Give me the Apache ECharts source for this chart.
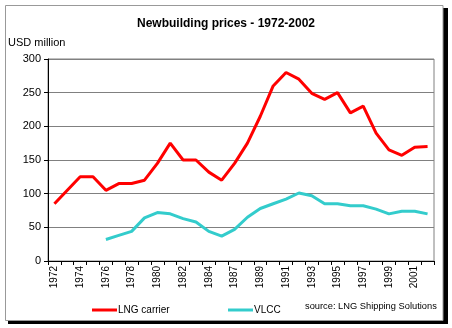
<!DOCTYPE html>
<html>
<head>
<meta charset="utf-8">
<script src="https://cdn.jsdelivr.net/npm/echarts@6/dist/echarts.min.js"></script>
<style>
html,body{margin:0;padding:0;background:#fff;}
#c{width:452px;height:328px;}
</style>
</head>
<body>
<div id="c"></div>
<script>
const years = ['1972','1973','1974','1975','1976','1977','1978','1979','1980','1981','1982','1983','1984','1985','1987','1988','1989','1990','1991','1992','1993','1994','1995','1996','1997','1998','1999','2000','2001','2002'];
const lngCarrier = [85,105,125,125,105,115,115,120,145,175,150,150,132,120,145,175,215,260,280,270,249,240,250,220,230,190,165,157,169,170];
const vlcc = [null,null,null,null,32,38,44,64,72,70,63,58,44,37,47,65,78,85,92,101,97,85,85,82,82,77,70,74,74,70];
const yTicks = {min:0, max:300, interval:50};

const chart = echarts.init(document.getElementById('c'), null, {renderer:'canvas'});
const font = 'Liberation Sans, Arial, sans-serif';
chart.setOption({
  backgroundColor: 'transparent',
  animation: false,
  title: {
    text: 'Newbuilding prices - 1972-2002',
    left: 'center', top: 13,
    textStyle: {fontFamily: font, fontSize: 12, fontWeight: 'bold', color: '#000'}
  },
  graphic: [
    {type:'rect', z:-20, shape:{x:8, y:8, width:440, height:316}, style:{fill:'#000'}},
    {type:'rect', z:-19, shape:{x:5.5, y:5.5, width:437.5, height:315}, style:{fill:'#fff', stroke:'#999', lineWidth:1}},
    {type:'text', z:10, left: 8, top: 37, style:{text:'USD million', fontFamily: font, fontSize: 11, fill:'#000'}},
    {type:'text', z:10, left: 305, top: 302, style:{text:'source: LNG Shipping Solutions', fontFamily: font, fontSize: 9.3, fill:'#000'}}
  ],
  legend: [
    {data:['LNG carrier'], left: 87, top: 300, itemWidth: 25, itemHeight: 3, itemGap: 0, icon: 'rect',
     textStyle:{fontFamily: font, fontSize: 10, color:'#000', padding:[0,0,0,-4]}},
    {data:['VLCC'], left: 223, top: 300, itemWidth: 25, itemHeight: 3, itemGap: 0, icon: 'rect',
     textStyle:{fontFamily: font, fontSize: 10, color:'#000', padding:[0,0,0,-4]}}
  ],
  grid: {left: 48, right: 18, top: 59, bottom: 67, show: true, borderColor: '#808080', borderWidth: 1, backgroundColor: 'transparent'},
  xAxis: {
    type: 'category', data: years, boundaryGap: true,
    axisLine: {lineStyle: {color: '#000', width: 1}},
    axisTick: {show: true, interval: 0, length: 4, lineStyle: {color: '#000'}},
    axisLabel: {interval: 1, rotate: 90, fontFamily: font, fontSize: 10, color: '#000', margin: 5},
    splitLine: {show: false}
  },
  yAxis: {
    type: 'value', min: yTicks.min, max: yTicks.max, interval: yTicks.interval,
    axisLine: {show: true, lineStyle: {color: '#000', width: 1}},
    axisTick: {show: true, length: 4, lineStyle: {color: '#000'}},
    axisLabel: {fontFamily: font, fontSize: 11, color: '#000', margin: 7},
    splitLine: {show: true, lineStyle: {color: '#808080', width: 1}}
  },
  series: [
    {name: 'LNG carrier', type: 'line', data: lngCarrier, symbol: 'none',
     lineStyle: {color: '#ff0000', width: 3}, itemStyle: {color: '#ff0000'}},
    {name: 'VLCC', type: 'line', data: vlcc, symbol: 'none', connectNulls: false,
     lineStyle: {color: '#33cccc', width: 3}, itemStyle: {color: '#33cccc'}}
  ]
});
</script>
</body>
</html>
